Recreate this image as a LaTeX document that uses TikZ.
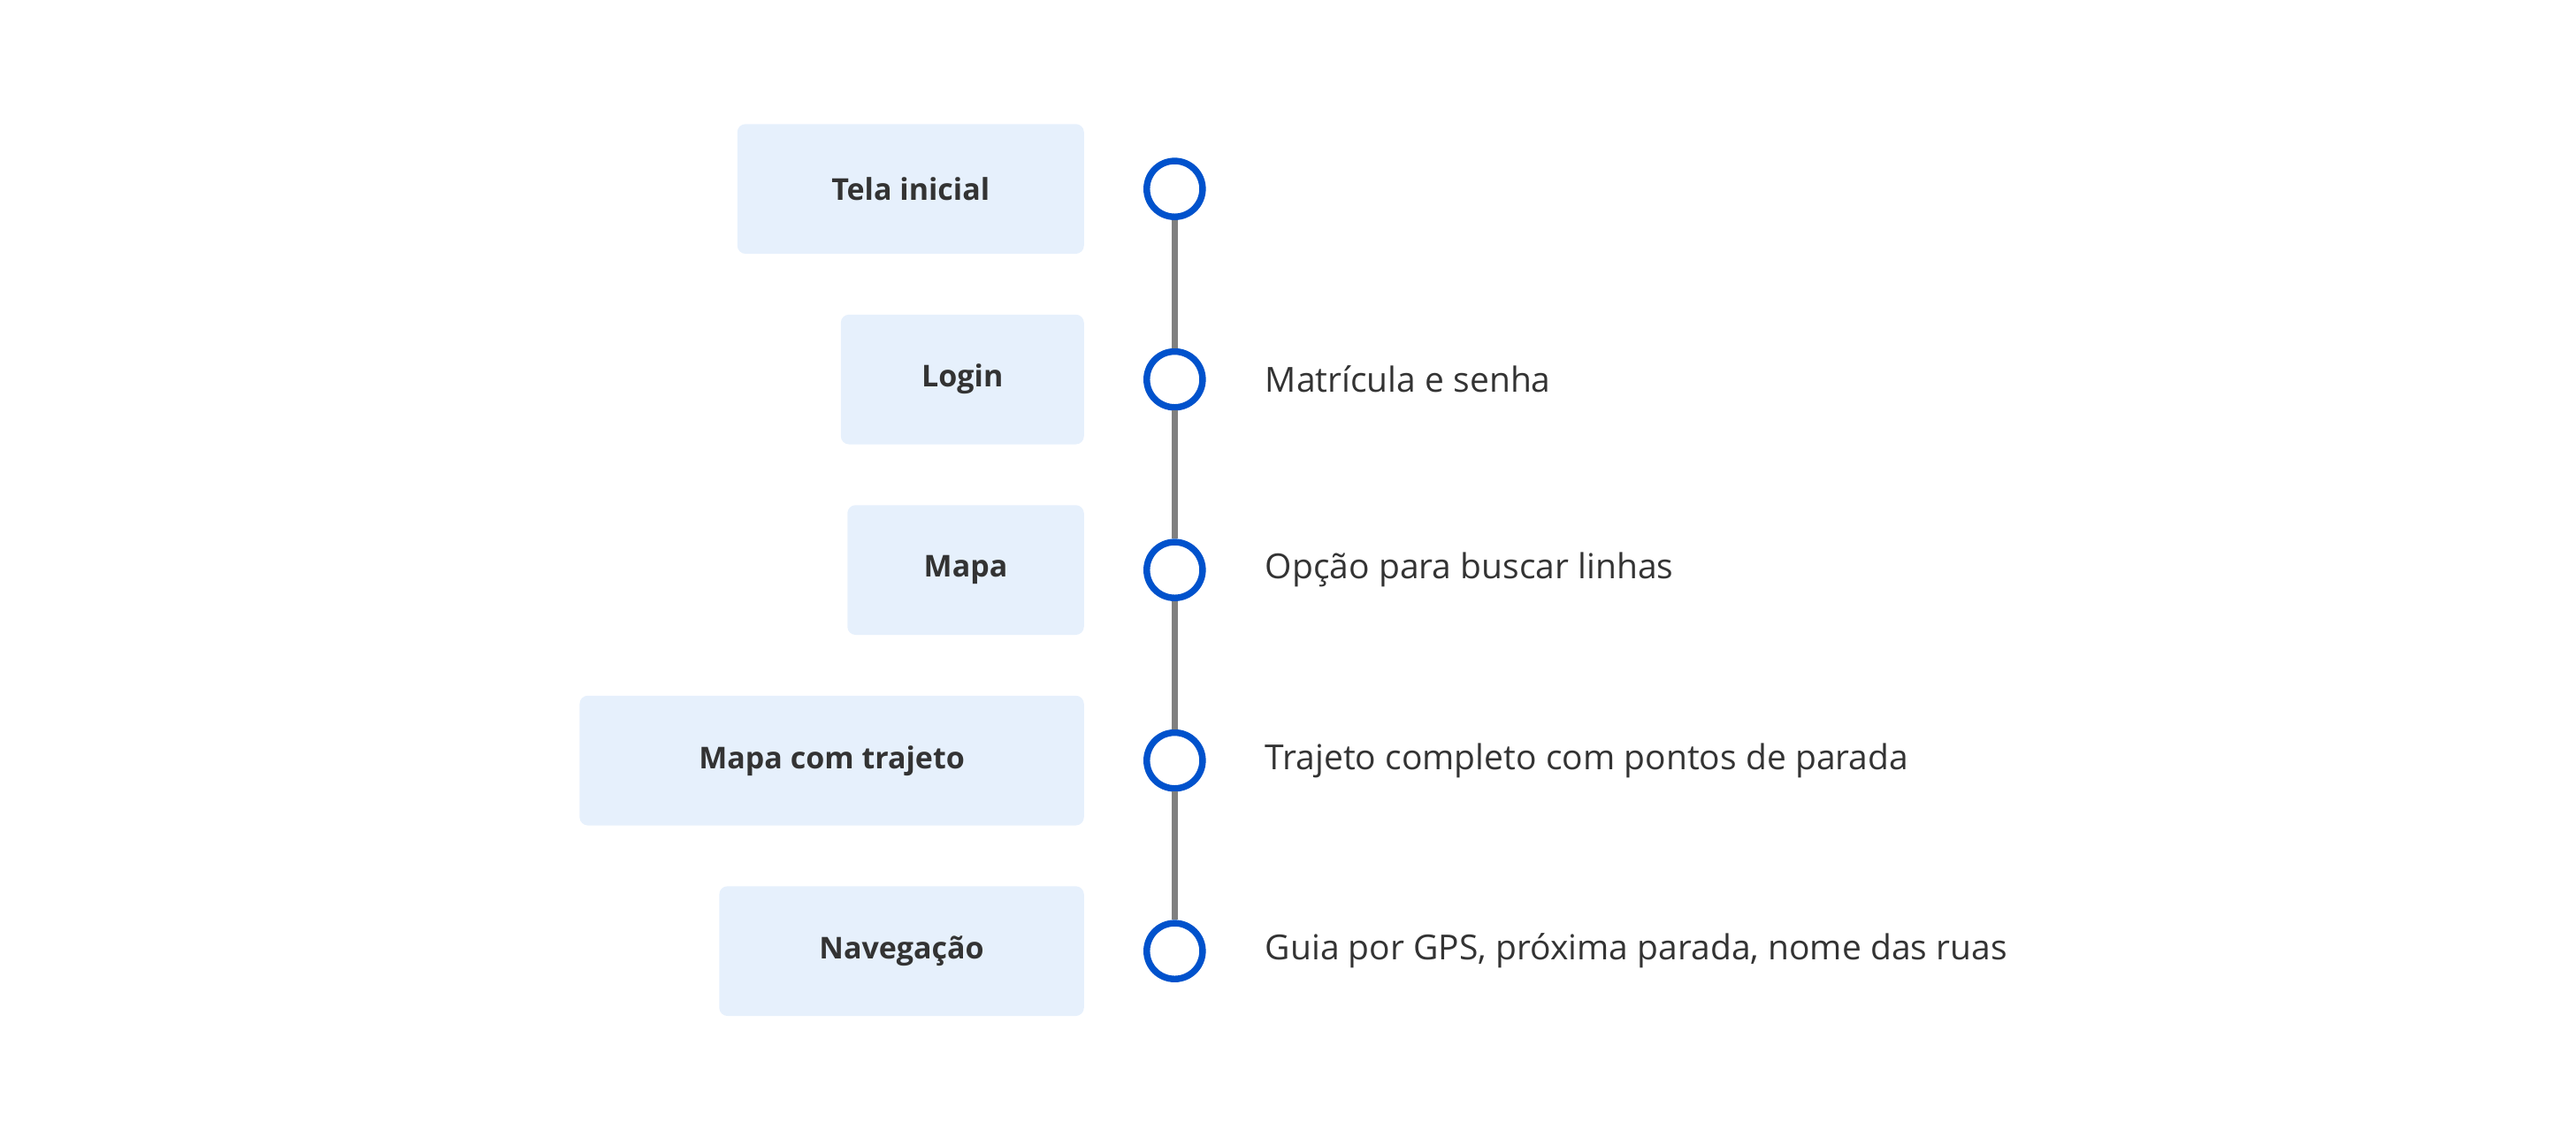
\documentclass[tikz,border=0pt]{standalone}
\usepackage{fontspec}
\setmainfont{Open Sans}
\usepackage{tikz}
\usetikzlibrary{positioning}
\definecolor{stepblue}{HTML}{0052CC}
\definecolor{linegray}{HTML}{808080}
\definecolor{boxfill}{HTML}{E6F0FC}
\definecolor{textdark}{HTML}{333333}
\tikzstyle{stop} = [draw=stepblue, fill=white, circle, line width=4pt, minimum size=34pt, inner sep=0pt]
\tikzstyle{screen} = [fill=boxfill, rectangle, rounded corners=5pt, minimum height=79pt, font=\fontsize{18.3}{22}\selectfont\bfseries, text=textdark, inner sep=0pt]
\tikzstyle{note} = [font=\fontsize{21}{25}\selectfont, text=textdark, inner sep=0pt]
\tikzstyle{track} = [draw=linegray, line width=4pt]

\begin{document}
\begin{tikzpicture}[x=1pt, y=-1pt, node distance=78pt]
    \useasboundingbox (0,0) rectangle (1568,697);
    \node (home) [stop] at (715,115) {};
    \node (login) [stop, below=of home] {};
    \node (map) [stop, below=of login] {};
    \node (route) [stop, below=of map] {};
    \node (nav) [stop, below=of route] {};

    % Screens.
    \node (home box) [screen, minimum width=211pt, left=36pt of home] {Tela inicial};
    \node (login box) [screen, minimum width=148pt, left=36pt of login] {Login};
    \node (map box) [screen, minimum width=144pt, left=36pt of map] {Mapa};
    \node (route box) [screen, minimum width=307pt, left=36pt of route] {Mapa com trajeto};
    \node (nav box) [screen, minimum width=222pt, left=36pt of nav] {Navegação};

    % Notes.
    \node (login note) [note, right=36pt of login] {Matrícula e senha};
    \node (map note) [note, right=36pt of map] {Opção para buscar linhas};
    \node (route note) [note, right=36pt of route] {Trajeto completo com pontos de parada};
    \node (nav note) [note, right=36pt of nav] {Guia por GPS, próxima parada, nome das ruas};

    % Track.
    \draw [track] (home) -- (login);
    \draw [track] (login) -- (map);
    \draw [track] (map) -- (route);
    \draw [track] (route) -- (nav);
\end{tikzpicture}
\end{document}
